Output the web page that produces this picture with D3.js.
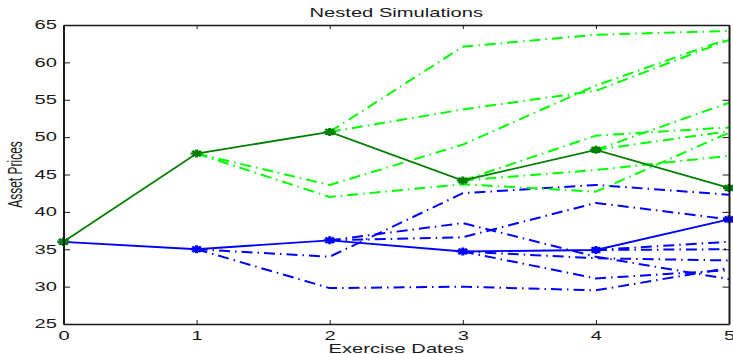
<!DOCTYPE html>
<html>
<head>
<meta charset="utf-8">
<script src="https://cdn.jsdelivr.net/npm/d3@7"></script>
<style>
  body { margin: 0; background: #fff; }
  svg { display: block; }
  text { font-family: "Liberation Sans", Arial, sans-serif; fill: #1a1a1a; }
</style>
</head>
<body>
<div id="chart"></div>
<script>
// values
const dates = [0, 1, 2, 3, 4, 5];
const yTicks = [25, 30, 35, 40, 45, 50, 55, 60, 65];

const greenMain = [36.0, 47.8, 50.7, 44.2, 48.3, 43.2];
const blueMain = [36.0, 35.0, 36.2, 34.7, 34.9, 39.0];

// nested paths: each one starts on a node of the main path
const greenNested = [
  { from: 1, values: [47.8, 43.6, 49.0, 56.9, 63.2] },
  { from: 1, values: [47.8, 42.0, 43.7, 42.7, 50.6] },
  { from: 2, values: [50.7, 62.1, 63.7, 64.2] },
  { from: 2, values: [50.7, 53.7, 56.2, 63.0] },
  { from: 3, values: [44.2, 50.2, 51.3] },
  { from: 3, values: [44.2, 45.6, 47.5] },
  { from: 4, values: [48.3, 54.6] },
  { from: 4, values: [48.3, 50.8] }
];

const blueNested = [
  { from: 1, values: [35.0, 34.0, 42.5, 43.6, 42.3] },
  { from: 1, values: [35.0, 29.8, 30.0, 29.5, 32.5] },
  { from: 2, values: [36.2, 38.5, 34.0, 31.0] },
  { from: 2, values: [36.2, 36.6, 41.2, 39.0] },
  { from: 3, values: [34.7, 33.8, 33.5] },
  { from: 3, values: [34.7, 31.1, 32.2] },
  { from: 4, values: [34.9, 36.0] },
  { from: 4, values: [34.9, 35.0] }
];

const width = 733, height = 354;
const margin = { top: 25, right: 4, bottom: 30, left: 63.5 };
const sx = 1.68; // text in the reference is stretched sideways

const svg = d3.select("#chart")
  .append("svg")
    .attr("width", width)
    .attr("height", height);

const x = d3.scaleLinear()
  .domain([0, 5])
  .range([margin.left, width - margin.right]);
const y = d3.scaleLinear()
  .domain([25, 65])
  .range([height - margin.bottom, margin.top]);

const line = d3.line()
  .x(function(d) { return x(d[0]); })
  .y(function(d) { return y(d[1]); });

function nestedPoints(p) {
  return p.values.map(function(v, i) { return [p.from + i, v]; });
}
function mainPoints(vals) {
  return vals.map(function(v, i) { return [dates[i], v]; });
}

// asterisk marker: + and x
const asterisk = {
  draw: function(context, size) {
    const r = Math.sqrt(size) / 2, d = r * 0.7071;
    context.moveTo(0, -r); context.lineTo(0, r);
    context.moveTo(-r, 0); context.lineTo(r, 0);
    context.moveTo(-d, -d); context.lineTo(d, d);
    context.moveTo(-d, d); context.lineTo(d, -d);
  }
};
const marker = d3.symbol().type(asterisk).size(64);

const plot = svg.append("g");

function drawNested(data, color) {
  plot.selectAll(null)
    .data(data)
    .enter().append("path")
      .attr("d", function(d) { return line(nestedPoints(d)); })
      .attr("fill", "none")
      .attr("stroke", color)
      .attr("stroke-width", 2)
      .attr("stroke-linejoin", "round")
      .attr("stroke-dasharray", "11,5,1.5,5");
}

function drawMain(vals, color) {
  plot.append("path")
    .attr("d", line(mainPoints(vals)))
    .attr("fill", "none")
    .attr("stroke", color)
    .attr("stroke-width", 1.8);
  plot.selectAll(null)
    .data(mainPoints(vals))
    .enter().append("path")
      .attr("d", marker)
      .attr("transform", function(d) {
        return "translate(" + x(d[0]) + "," + y(d[1]) + ") scale(1.5,1)";
      })
      .attr("fill", "none")
      .attr("stroke", color)
      .attr("stroke-width", 2);
}

drawNested(blueNested, "#0000ff");
drawNested(greenNested, "#00ff00");
drawMain(blueMain, "#0000ff");
drawMain(greenMain, "#007f00");

// axes, MATLAB style: box with inward ticks
const xBottom = d3.axisBottom(x).tickValues(dates).tickFormat(d3.format("d"))
  .tickSizeInner(-4).tickSizeOuter(0).tickPadding(7);
const xTop = d3.axisTop(x).tickValues(dates).tickFormat("")
  .tickSizeInner(-4).tickSizeOuter(0);
const yLeft = d3.axisLeft(y).tickValues(yTicks).tickFormat(d3.format("d"))
  .tickSizeInner(-6.5).tickSizeOuter(0).tickPadding(6.5);
const yRight = d3.axisRight(y).tickValues(yTicks).tickFormat("")
  .tickSizeInner(-6.5).tickSizeOuter(0);

const gBottom = svg.append("g")
  .attr("transform", "translate(0," + (height - margin.bottom) + ")")
  .call(xBottom);
const gTop = svg.append("g")
  .attr("transform", "translate(0," + margin.top + ")")
  .call(xTop);
const gLeft = svg.append("g")
  .attr("transform", "translate(" + margin.left + ",0)")
  .call(yLeft);
const gRight = svg.append("g")
  .attr("transform", "translate(" + (width - margin.right) + ",0)")
  .call(yRight);

[gBottom, gTop, gLeft, gRight].forEach(function(g) {
  g.selectAll("line").attr("stroke", "#1a1a1a").attr("stroke-width", 1);
  g.select(".domain").attr("stroke", "#1a1a1a");
  g.selectAll("text")
    .attr("font-family", "Liberation Sans, Arial, sans-serif")
    .attr("font-size", 12)
    .attr("fill", "#1a1a1a");
});
gLeft.select(".domain").attr("stroke-width", 2);
gRight.select(".domain").attr("stroke-width", 2);
gBottom.select(".domain").attr("stroke-width", 1.6);
gTop.select(".domain").attr("stroke-width", 1.3);

gBottom.selectAll("text").attr("transform", "scale(" + sx + ",1)");
gLeft.selectAll("text")
  .attr("x", -6.5 / sx)
  .attr("transform", "scale(" + sx + ",1)");

const cx = (x.range()[0] + x.range()[1]) / 2;
const cy = (y.range()[0] + y.range()[1]) / 2;

svg.append("text")
  .attr("transform", "translate(" + cx + ",17.3) scale(" + sx + ",1)")
  .attr("text-anchor", "middle")
  .attr("font-size", 12)
  .text("Nested Simulations");

svg.append("text")
  .attr("transform", "translate(" + cx + ",352.5) scale(" + sx + ",1)")
  .attr("text-anchor", "middle")
  .attr("font-size", 12)
  .text("Exercise Dates");

svg.append("text")
  .attr("transform", "translate(21.5," + cy + ") scale(" + sx + ",1) rotate(-90)")
  .attr("text-anchor", "middle")
  .attr("font-size", 12)
  .text("Asset Prices");
</script>
</body>
</html>
